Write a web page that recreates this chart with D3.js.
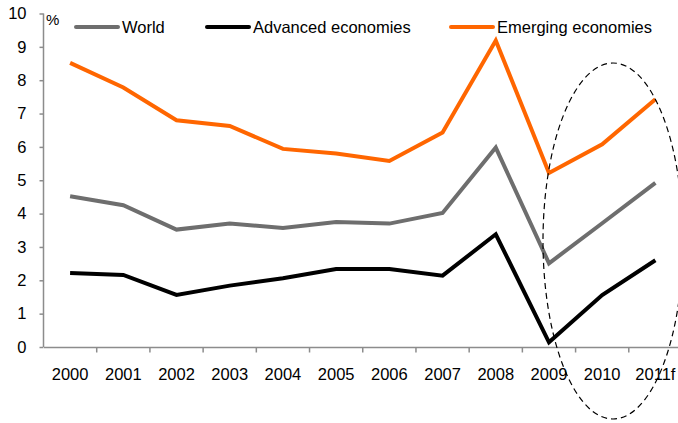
<!DOCTYPE html>
<html>
<head>
<meta charset="utf-8">
<script src="https://cdn.jsdelivr.net/npm/d3@7"></script>
<style>
  html, body { margin: 0; padding: 0; background: #fff; }
  svg { display: block; font-family: "Liberation Sans", Arial, sans-serif; }
</style>
</head>
<body>
<svg id="chart" width="678" height="423"></svg>
<script>
const years = ["2000","2001","2002","2003","2004","2005","2006","2007","2008","2009","2010","2011f"];
const world = [4.52, 4.25, 3.52, 3.70, 3.57, 3.75, 3.70, 4.02, 5.98, 2.51, 3.71, 4.92];
const advanced = [2.22, 2.16, 1.56, 1.84, 2.06, 2.34, 2.34, 2.14, 3.38, 0.14, 1.56, 2.60];
const emerging = [8.52, 7.78, 6.80, 6.63, 5.94, 5.80, 5.58, 6.43, 9.19, 5.22, 6.08, 7.43];
const seriesNames = ["World", "Advanced economies", "Emerging economies"];
const seriesColors = ["#6e6e6e", "#000000", "#ff6600"];
const yTicks = [0,1,2,3,4,5,6,7,8,9,10];

(function () {
const svg = d3.select("#chart");
const mLeft = 43.5, mRight = 682, mTop = 13.5, mBottom = 347;

const x = d3.scaleBand().domain(years).range([mLeft, mRight]);
const y = d3.scaleLinear().domain([0, 10]).range([mBottom, mTop]);

const axisColor = "#8c8c8c";
const fontSize = "16.5px";

// Y axis
const yAxis = svg.append("g")
  .attr("transform", `translate(${mLeft},0)`)
  .call(d3.axisLeft(y).tickValues(yTicks).tickSize(4).tickPadding(13).tickFormat(d3.format("d")));
yAxis.select(".domain").attr("stroke", axisColor).attr("stroke-width", 1.5).attr("d", `M0,${mTop}V${mBottom}`);
yAxis.selectAll(".tick line").attr("stroke", axisColor).attr("stroke-width", 1.5);
yAxis.selectAll(".tick text").attr("fill", "#000").style("font-size", fontSize).attr("font-family", null);

// X axis
const xAxis = svg.append("g")
  .attr("transform", `translate(0,${mBottom})`)
  .call(d3.axisBottom(x).tickSize(0).tickPadding(21));
xAxis.select(".domain").attr("stroke", axisColor).attr("stroke-width", 1.5);
xAxis.selectAll(".tick text").attr("fill", "#000").style("font-size", fontSize).attr("font-family", null);
// boundary ticks between categories
const bounds = years.slice(1).map(d => x(d));
svg.append("g").selectAll("line").data(bounds).join("line")
  .attr("x1", d => d).attr("x2", d => d)
  .attr("y1", mBottom).attr("y2", mBottom + 5.5)
  .attr("stroke", axisColor).attr("stroke-width", 1.5);

// % label
svg.append("text").attr("x", 46).attr("y", 25).text("%")
  .style("font-size", "15px").attr("fill", "#000");

// Lines
const line = d3.line()
  .x((d, i) => x(years[i]) + x.bandwidth() / 2)
  .y(d => y(d));
const data = [world, advanced, emerging];
svg.append("g").selectAll("path").data(data).join("path")
  .attr("d", d => line(d))
  .attr("fill", "none")
  .attr("stroke", (d, i) => seriesColors[i])
  .attr("stroke-width", 4)
  .attr("stroke-linejoin", "miter")
  .attr("stroke-linecap", "butt");

// Legend
const legendX = [76, 207, 451];
const legend = svg.append("g").selectAll("g").data(seriesNames).join("g")
  .attr("transform", (d, i) => `translate(${legendX[i]},27)`);
legend.append("line")
  .attr("x1", 0).attr("x2", 42).attr("y1", 0).attr("y2", 0)
  .attr("stroke", (d, i) => seriesColors[i])
  .attr("stroke-width", 4).attr("stroke-linecap", "round");
legend.append("text")
  .attr("x", 46).attr("y", 6)
  .text(d => d)
  .style("font-size", fontSize).attr("fill", "#000");

// Dashed ellipse around forecast period
svg.append("ellipse")
  .attr("cx", 613).attr("cy", 241)
  .attr("rx", 70).attr("ry", 178)
  .attr("fill", "none")
  .attr("stroke", "#000")
  .attr("stroke-width", 1.2)
  .attr("stroke-dasharray", "6,4");
})();
</script>
</body>
</html>
